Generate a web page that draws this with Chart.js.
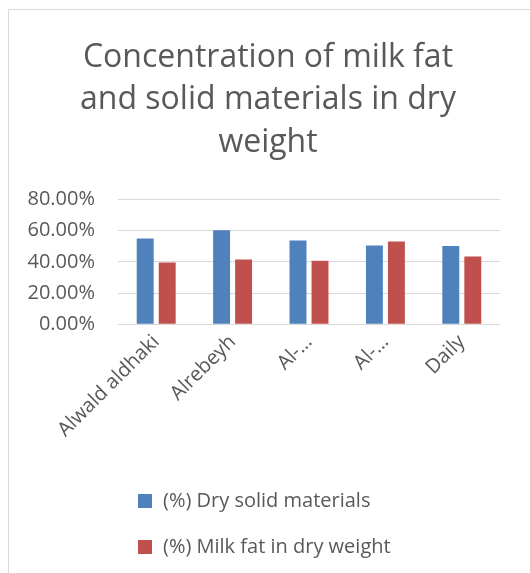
<!DOCTYPE html>
<html>
<head>
<meta charset="utf-8">
<script src="https://cdn.jsdelivr.net/npm/chart.js@4"></script>
<style>
  body { margin: 0; background: #fff; }
  .wrap { position: relative; width: 530px; height: 573px; overflow: hidden; }
  .frame { position: absolute; left: 8px; top: 9px; width: 600px; height: 700px;
           border-left: 1px solid #d9d9d9; border-top: 1px solid #d9d9d9; }
  canvas { position: absolute; left: 0; top: 0; }
</style>
</head>
<body>
<div class="wrap">
  <div class="frame"></div>
  <canvas id="chart" width="530" height="573"></canvas>
</div>
<script>
const categories = ["Alwald aldhaki", "Alrebeyh", "Al-…", "Al-…", "Daily"];
const drySolids = [55.0, 60.4, 53.7, 50.5, 50.3];
const milkFat = [39.7, 41.5, 40.8, 53.1, 43.4];
const seriesNames = ["(%) Dry solid materials", "(%) Milk fat in dry weight"];
const seriesColors = ["#4f81bd", "#c0504d"];
const titleLines = ["Concentration of milk fat", "and solid materials in dry", "weight"];

const textColor = "#595959";
const fontFamily = "'Open Sans', sans-serif";

// legend drawn as a vertical list, left aligned, like the Excel original
const listLegend = {
  id: "listLegend",
  afterDraw(chart) {
    const ctx = chart.ctx;
    ctx.save();
    ctx.font = "20px " + fontFamily;
    ctx.textBaseline = "middle";
    ctx.textAlign = "left";
    chart.data.datasets.forEach((ds, i) => {
      const y = 501 + i * 46;
      ctx.fillStyle = ds.backgroundColor;
      ctx.fillRect(138, y - 7, 14, 14);
      ctx.fillStyle = textColor;
      ctx.fillText(ds.label, 163, y);
    });
    ctx.restore();
  }
};

new Chart(document.getElementById("chart"), {
  type: "bar",
  data: {
    labels: categories,
    datasets: [
      { label: seriesNames[0], data: drySolids, backgroundColor: seriesColors[0] },
      { label: seriesNames[1], data: milkFat, backgroundColor: seriesColors[1] }
    ]
  },
  options: {
    responsive: false,
    devicePixelRatio: 1,
    animation: false,
    categoryPercentage: 0.576,
    barPercentage: 0.77,
    layout: { padding: { left: 26, right: 20, top: 0, bottom: 125 } },
    plugins: {
      legend: { display: false },
      tooltip: { enabled: false },
      title: {
        display: true,
        text: titleLines,
        color: textColor,
        font: { family: fontFamily, size: 32, weight: "normal", lineHeight: 1.34 },
        padding: { top: 36, bottom: 35 }
      }
    },
    scales: {
      x: {
        grid: { display: false, drawTicks: false },
        border: { display: false },
        ticks: {
          color: textColor,
          font: { family: fontFamily, size: 20 },
          minRotation: 45,
          maxRotation: 45,
          autoSkip: false,
          padding: 6
        }
      },
      y: {
        min: 0,
        max: 80,
        grid: { color: "#d9d9d9", lineWidth: 1, drawTicks: false },
        border: { display: false },
        afterFit: scale => { scale.width = 92; },
        ticks: {
          stepSize: 20,
          color: textColor,
          font: { family: fontFamily, size: 20 },
          padding: 23,
          callback: v => v.toFixed(2) + "%"
        }
      },
      // empty spacer on the right so the title stays centred in the frame
      spacer: {
        position: "right",
        grid: { display: false, drawTicks: false },
        border: { display: false },
        ticks: { display: false },
        afterFit: scale => { scale.width = 10; }
      }
    }
  },
  plugins: [listLegend]
});
</script>
</body>
</html>
